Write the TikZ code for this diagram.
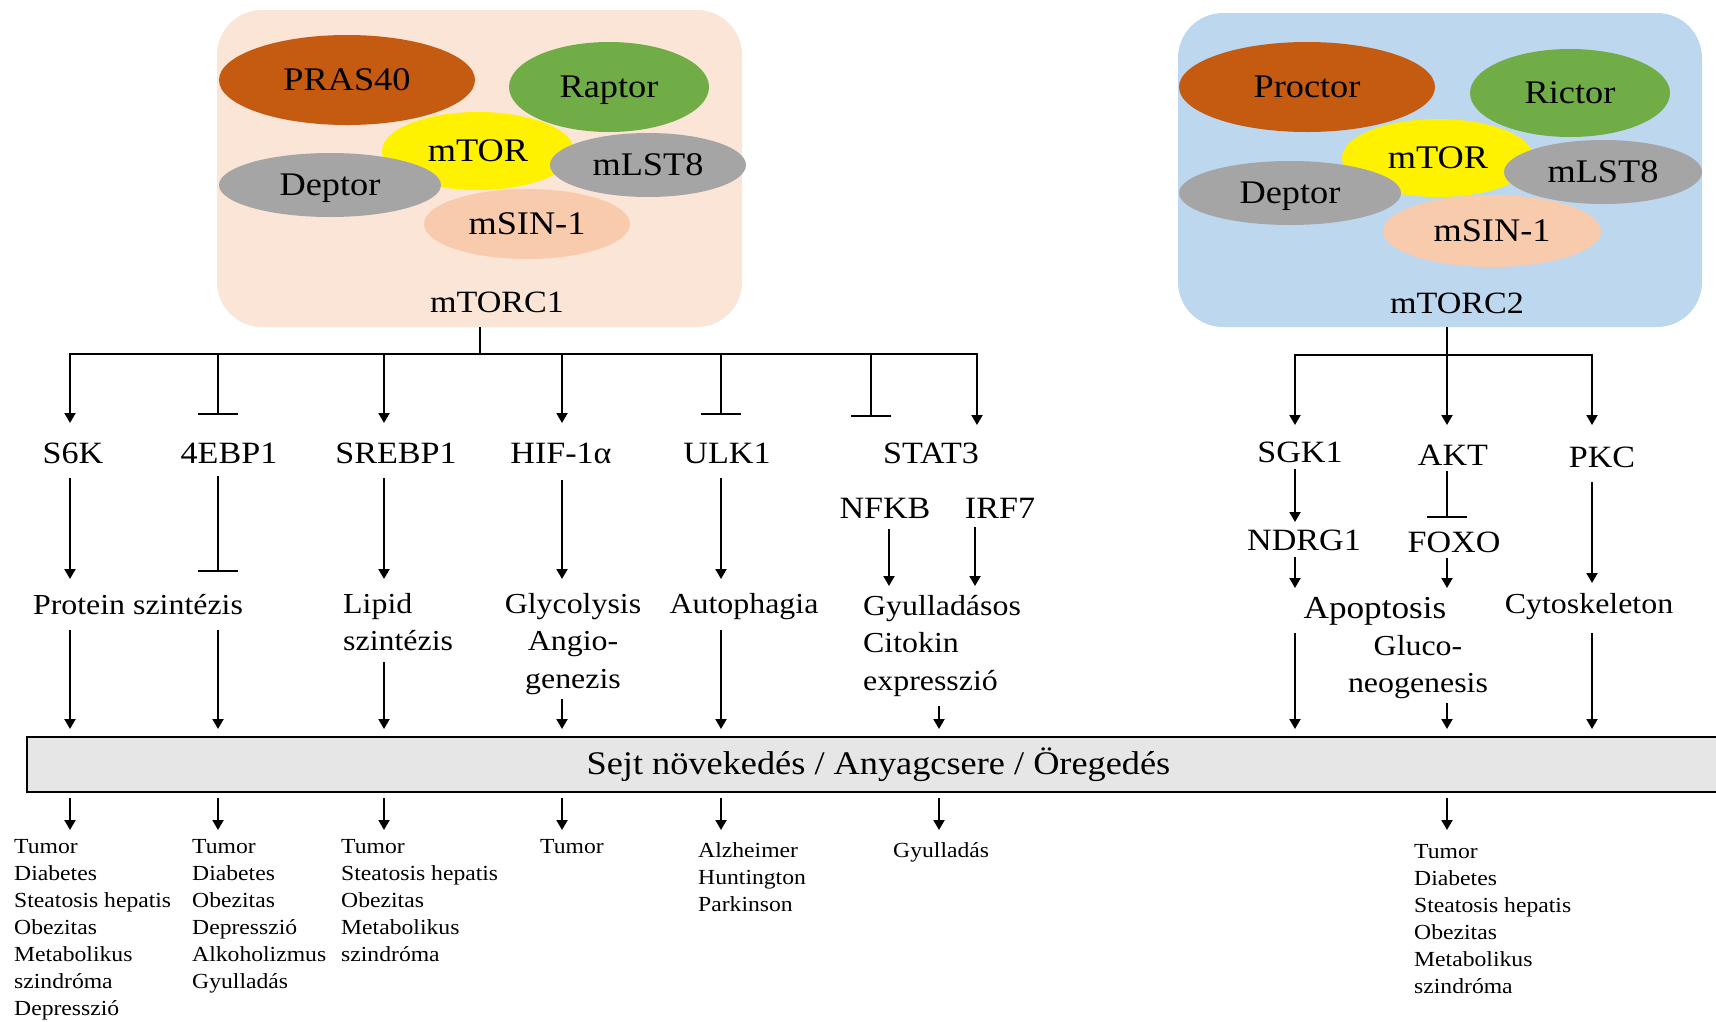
\documentclass[tikz,border=0pt]{standalone}
\usepackage{fontspec}
\setmainfont[FakeStretch=1.1]{Liberation Serif}
\usetikzlibrary{shapes.geometric, arrows.meta, positioning}
\definecolor{rust}{HTML}{C55A11}
\definecolor{leaf}{HTML}{70AD47}
\definecolor{stone}{HTML}{A5A5A5}
\definecolor{peach}{HTML}{F8CBAD}
\definecolor{rosebg}{HTML}{FBE5D6}
\definecolor{skybg}{HTML}{BDD7EE}
\definecolor{barfill}{HTML}{E7E6E6}
\newcommand{\fsub}{\fontsize{33}{36}\selectfont}
\newcommand{\fname}{\fontsize{31}{36}\selectfont}
\newcommand{\fproc}{\fontsize{29}{37.5}\selectfont}
\newcommand{\fapop}{\fontsize{32}{36}\selectfont}
\newcommand{\fbar}{\fontsize{33}{36}\selectfont}
\newcommand{\fdis}{\fontsize{21.5}{27}\selectfont}
\tikzstyle{complex} = [rectangle, rounded corners=45pt, inner sep=0pt]
\tikzstyle{subunit} = [ellipse, inner sep=0pt, text height=21.8pt, text depth=0pt, font=\fsub]
\tikzstyle{prot}    = [inner sep=0pt, anchor=base, font=\fname]
\tikzstyle{proc}    = [inner sep=0pt, anchor=base, font=\fproc]
\tikzstyle{proc2}   = [inner sep=0pt, anchor=north, align=center, font=\fproc]
\tikzstyle{dis}     = [inner sep=0pt, anchor=north west, align=left, font=\fdis]
\tikzstyle{act}     = [-{Triangle[length=10pt, width=11pt]}, line width=2pt]
\tikzstyle{inh}     = [-{Bar[width=40pt]}, line width=2pt]

\begin{document}
\begin{tikzpicture}[x=1pt, y=-1pt]
  \clip (0,0) rectangle (1716,1021);

  % mTORC1 complex
  \node (c1box)   [complex, fill=rosebg, minimum width=525pt, minimum height=317pt] at (479.5,168.5) {};
  \node (pras)    [subunit, fill=rust, minimum width=256pt, minimum height=90pt]  at (347,80)  {PRAS40};
  \node (raptor)  [subunit, fill=leaf, minimum width=200pt, minimum height=90pt]  at (609,87)  {Raptor};
  \node (mtor1)   [subunit, fill=yellow, minimum width=192pt, minimum height=78pt] at (478,151) {mTOR};
  \node (deptor1) [subunit, fill=stone, minimum width=222pt, minimum height=64pt] at (330,185) {Deptor};
  \node (mlst1)   [subunit, fill=stone, minimum width=196pt, minimum height=64pt] at (648,165) {mLST8};
  \node (msin1)   [subunit, fill=peach, minimum width=206pt, minimum height=70pt] at (527,224) {mSIN-1};
  \node (name1)   [prot] at (497,312) {mTORC1};

  % mTORC2 complex
  \node (c2box)   [complex, fill=skybg, minimum width=524pt, minimum height=314pt] at (1440,170) {};
  \node (proctor) [subunit, fill=rust, minimum width=256pt, minimum height=90pt]  at (1307,87)  {Proctor};
  \node (rictor)  [subunit, fill=leaf, minimum width=200pt, minimum height=88pt]  at (1570,93)  {Rictor};
  \node (mtor2)   [subunit, fill=yellow, minimum width=192pt, minimum height=78pt] at (1438,158) {mTOR};
  \node (deptor2) [subunit, fill=stone, minimum width=222pt, minimum height=64pt] at (1290,193) {Deptor};
  \node (mlst2)   [subunit, fill=stone, minimum width=198pt, minimum height=64pt] at (1603,172) {mLST8};
  \node (msin2)   [subunit, fill=peach, minimum width=218pt, minimum height=72pt] at (1492,231) {mSIN-1};
  \node (name2)   [prot] at (1457,313) {mTORC2};

  % branch points
  \coordinate (m1) at (70,354);
  \coordinate (m2) at (218,354);
  \coordinate (m3) at (384,354);
  \coordinate (m4) at (562,354);
  \coordinate (m5) at (721,354);
  \coordinate (m6) at (871,354);
  \coordinate (m7) at (977,354);
  \coordinate (q1) at (1295,355);
  \coordinate (q2) at (1447,355);
  \coordinate (q3) at (1592,355);
  \coordinate (cn) at (889,500);
  \coordinate (ci) at (975,500);
  \coordinate (cg) at (939,700);

  % targets
  \node (s6k)   [prot] at (73,463)   {S6K};
  \node (ebp)   [prot] at (229,463)  {4EBP1};
  \node (srebp) [prot] at (396,463)  {SREBP1};
  \node (hif)   [prot] at (561,463)  {HIF-1α};
  \node (ulk)   [prot] at (727,463)  {ULK1};
  \node (stat)  [prot] at (931,463)  {STAT3};
  \node (nfkb)  [prot] at (885,518)  {NFKB};
  \node (irf)   [prot] at (1000,518) {IRF7};
  \node (sgk)   [prot] at (1300,462) {SGK1};
  \node (akt)   [prot] at (1453,465) {AKT};
  \node (pkc)   [prot] at (1602,467) {PKC};
  \node (ndrg)  [prot] at (1304,550) {NDRG1};
  \node (foxo)  [prot] at (1454,552) {FOXO};

  % processes
  \node (protein) [proc] at (138,614) {Protein szintézis};
  \node (lipid)   [proc2, align=left, anchor=north west] at (343,593) {Lipid\\szintézis};
  \node (glyco)   [proc2] at (573,593) {Glycolysis\\Angio-\\genezis};
  \node (autoph)  [proc] at (744,613) {Autophagia};
  \node (gyull)   [proc2, align=left, anchor=north west] at (863,595) {Gyulladásos\\Citokin\\expresszió};
  \node (apopt)   [proc, font=\fapop] at (1375,618) {Apoptosis};
  \node (gluco)   [proc2] at (1418,635) {Gluco-\\neogenesis};
  \node (cyto)    [proc] at (1589,613) {Cytoskeleton};

  \node (sejt) [draw, line width=2pt, fill=barfill, minimum width=1703pt, minimum height=55pt,
                inner sep=0pt, font=\fbar] at (878.5,764.5) {Sejt növekedés / Anyagcsere / Öregedés};

  % diseases
  \node (dz1) [dis] at (14,839)   {Tumor\\Diabetes\\Steatosis hepatis\\Obezitas\\Metabolikus\\szindróma\\Depresszió};
  \node (dz2) [dis] at (192,839)  {Tumor\\Diabetes\\Obezitas\\Depresszió\\Alkoholizmus\\Gyulladás};
  \node (dz3) [dis] at (341,839)  {Tumor\\Steatosis hepatis\\Obezitas\\Metabolikus\\szindróma};
  \node (dz4) [dis] at (540,839)  {Tumor};
  \node (dz5) [dis] at (698,842)  {Alzheimer\\Huntington\\Parkinson};
  \node (dz6) [dis] at (893,842)  {Gyulladás};
  \node (dz7) [dis] at (1414,844) {Tumor\\Diabetes\\Steatosis hepatis\\Obezitas\\Metabolikus\\szindróma};

  % mTORC1 tree
  \draw [act, shorten >=40pt] (c1box.south) |- (m1) -- (s6k.base -| m1);
  \draw [act, shorten >=38pt] (c1box.south) |- (m7) -- (stat.base -| m7);
  \draw [inh, shorten >=48pt] (m2) -- (ebp.base -| m2);
  \draw [act, shorten >=40pt] (m3) -- (srebp.base -| m3);
  \draw [act, shorten >=40pt] (m4) -- (hif.base -| m4);
  \draw [inh, shorten >=48pt] (m5) -- (ulk.base -| m5);
  \draw [inh, shorten >=46pt] (m6) -- (stat.base -| m6);

  % mTORC2 tree
  \draw [act, shorten >=37pt] (c2box.south -| q2) |- (q1) -- (sgk.base -| q1);
  \draw [act, shorten >=42pt] (c2box.south -| q2) |- (q3) -- (pkc.base -| q3);
  \draw [act, shorten >=40pt] (c2box.south -| q2) -- (akt.base -| q2);

  % targets -> processes
  \draw [act, shorten <=15pt, shorten >=35pt] (s6k.base -| m1)   -- (protein.base -| m1);
  \draw [inh, shorten <=13pt, shorten >=42pt] (ebp.base -| m2)   -- (protein.base -| m2);
  \draw [act, shorten <=15pt, shorten >=14pt] (srebp.base -| m3) -- (lipid.north -| m3);
  \draw [act, shorten <=17pt, shorten >=14pt] (hif.base -| m4)   -- (glyco.north -| m4);
  \draw [act, shorten <=15pt, shorten >=34pt] (ulk.base -| m5)   -- (autoph.base -| m5);
  \draw [act, shorten <=11pt, shorten >=9pt]  (nfkb.base -| cn)  -- (gyull.north -| cn);
  \draw [act, shorten <=9pt,  shorten >=9pt]  (irf.base -| ci)   -- (gyull.north -| ci);
  \draw [act, shorten <=7pt,  shorten >=28pt] (sgk.base -| q1)   -- (ndrg.base -| q1);
  \draw [inh, shorten <=6pt,  shorten >=34pt] (akt.base -| q2)   -- (foxo.base -| q2);
  \draw [act, shorten <=7pt,  shorten >=30pt] (ndrg.base -| q1)  -- (apopt.base -| q1);
  \draw [act, shorten <=6pt,  shorten >=30pt] (foxo.base -| q2)  -- (apopt.base -| q2);
  \draw [act, shorten <=15pt, shorten >=30pt] (pkc.base -| q3)   -- (cyto.base -| q3);

  % processes -> bar
  \draw [act, shorten <=16pt, shorten >=7pt] (protein.base -| m1) -- (sejt.north -| m1);
  \draw [act, shorten <=16pt, shorten >=7pt] (protein.base -| m2) -- (sejt.north -| m2);
  \draw [act, shorten <=11pt, shorten >=7pt] (lipid.south -| m3)  -- (sejt.north -| m3);
  \draw [act, shorten <=4pt,  shorten >=7pt] (glyco.south -| m4)  -- (sejt.north -| m4);
  \draw [act, shorten <=17pt, shorten >=7pt] (autoph.base -| m5)  -- (sejt.north -| m5);
  \draw [act, shorten <=9pt,  shorten >=7pt] (gyull.south -| cg)  -- (sejt.north -| cg);
  \draw [act, shorten <=15pt, shorten >=7pt] (apopt.base -| q1)   -- (sejt.north -| q1);
  \draw [act, shorten <=4pt,  shorten >=7pt] (gluco.south -| q2)  -- (sejt.north -| q2);
  \draw [act, shorten <=20pt, shorten >=7pt] (cyto.base -| q3)    -- (sejt.north -| q3);

  % bar -> diseases
  \draw [act, shorten <=5pt, shorten >=9pt]  (sejt.south -| m1) -- (dz1.north -| m1);
  \draw [act, shorten <=5pt, shorten >=9pt]  (sejt.south -| m2) -- (dz2.north -| m2);
  \draw [act, shorten <=5pt, shorten >=9pt]  (sejt.south -| m3) -- (dz3.north -| m3);
  \draw [act, shorten <=5pt, shorten >=9pt]  (sejt.south -| m4) -- (dz4.north -| m4);
  \draw [act, shorten <=5pt, shorten >=12pt] (sejt.south -| m5) -- (dz5.north -| m5);
  \draw [act, shorten <=5pt, shorten >=12pt] (sejt.south -| cg) -- (dz6.north -| cg);
  \draw [act, shorten <=5pt, shorten >=14pt] (sejt.south -| q2) -- (dz7.north -| q2);
\end{tikzpicture}
\end{document}
